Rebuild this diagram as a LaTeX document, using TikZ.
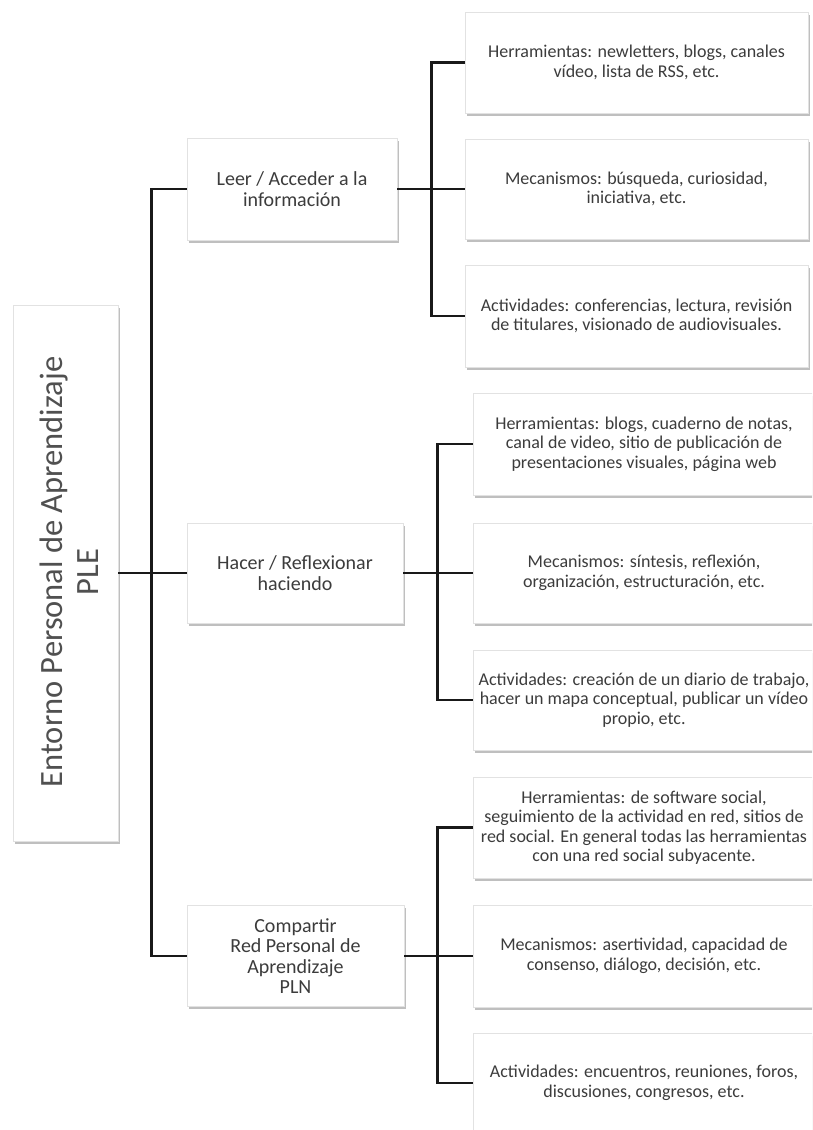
\documentclass[tikz,border=0pt]{standalone}
\usepackage{fontspec}
\setmainfont{Carlito}
\usetikzlibrary{shadows}
\definecolor{txt}{HTML}{3C3C3C}
\definecolor{roottxt}{HTML}{505050}
\definecolor{bord}{HTML}{E2E2E2}
\tikzset{
  box/.style={draw=bord, line width=0.8pt, fill=white, align=center, inner sep=0pt,
    text=txt, drop shadow={shadow xshift=1.5pt, shadow yshift=-2.5pt, fill=black!55, opacity=0.45}},
  leaf/.style={box, font=\fontsize{18}{19.5}\selectfont},
  mid/.style={box, font=\fontsize{20}{20.5}\selectfont},
  conn/.style={line width=2.6pt, draw=black!90}
}
\begin{document}
\begin{tikzpicture}[x=1pt,y=-1pt]
\useasboundingbox (0,0) rectangle (812,1130);
\clip (0,0) rectangle (812,1130);
\fill[white] (0,0) rectangle (812,1130);

% root
\node[box, minimum width=105, minimum height=536] (root) at (65.5,573) {};
\node[rotate=90, align=center, text=roottxt, font=\fontsize{32.5}{36}\selectfont] (roottext) at (69,572) {Entorno Personal de Aprendizaje\\PLE};

% level 2
\node[mid, minimum width=210, minimum height=102] (leer) at (292,189) {Leer / Acceder a la\\información};
\node[mid, minimum width=216, minimum height=100] (hacer) at (295,573) {Hacer / Reflexionar\\haciendo};
\node[mid, minimum width=217, minimum height=101] (comp) at (295.5,956) {Compartir\\Red Personal de\\Aprendizaje\\PLN};

% group A
\node[leaf, minimum width=343, minimum height=101] (a1) at (636.5,62.5) {Herramientas: newletters, blogs, canales\\vídeo, lista de RSS, etc.};
\node[leaf, minimum width=343, minimum height=100] (a2) at (636.5,189) {Mecanismos: búsqueda, curiosidad,\\iniciativa, etc.};
\node[leaf, minimum width=343, minimum height=102] (a3) at (636.5,316) {Actividades: conferencias, lectura, revisión\\de titulares, visionado de audiovisuales.};

% group B
\node[leaf, minimum width=342, minimum height=102] (b1) at (644,444) {Herramientas: blogs, cuaderno de notas,\\canal de video, sitio de publicación de\\presentaciones visuales, página web};
\node[leaf, minimum width=342, minimum height=100] (b2) at (644,573) {Mecanismos: síntesis, reflexión,\\organización, estructuración, etc.};
\node[leaf, minimum width=342, minimum height=100] (b3) at (644,700) {Actividades: creación de un diario de trabajo,\\hacer un mapa conceptual, publicar un vídeo\\propio, etc.};

% group C
\node[leaf, minimum width=342, minimum height=101] (c1) at (644,827.5) {Herramientas: de software social,\\seguimiento de la actividad en red, sitios de\\red social. En general todas las herramientas\\con una red social subyacente.};
\node[leaf, minimum width=342, minimum height=102] (c2) at (644,956) {Mecanismos: asertividad, capacidad de\\consenso, diálogo, decisión, etc.};
\node[leaf, minimum width=342, minimum height=100] (c3) at (644,1083) {Actividades: encuentros, reuniones, foros,\\discusiones, congresos, etc.};

% connectors
\draw[conn] (root.east) -- (hacer.west);
\draw[conn] (leer.west) -- ++(-35,0) |- (comp.west);

\draw[conn] (leer.east) -- (a2.west);
\draw[conn] (a1.west) -- ++(-33,0) |- (a3.west);

\draw[conn] (hacer.east) -- (b2.west);
\draw[conn] (b1.west) -- ++(-35,0) |- (b3.west);

\draw[conn] (comp.east) -- (c2.west);
\draw[conn] (c1.west) -- ++(-35,0) |- (c3.west);
\end{tikzpicture}
\end{document}
